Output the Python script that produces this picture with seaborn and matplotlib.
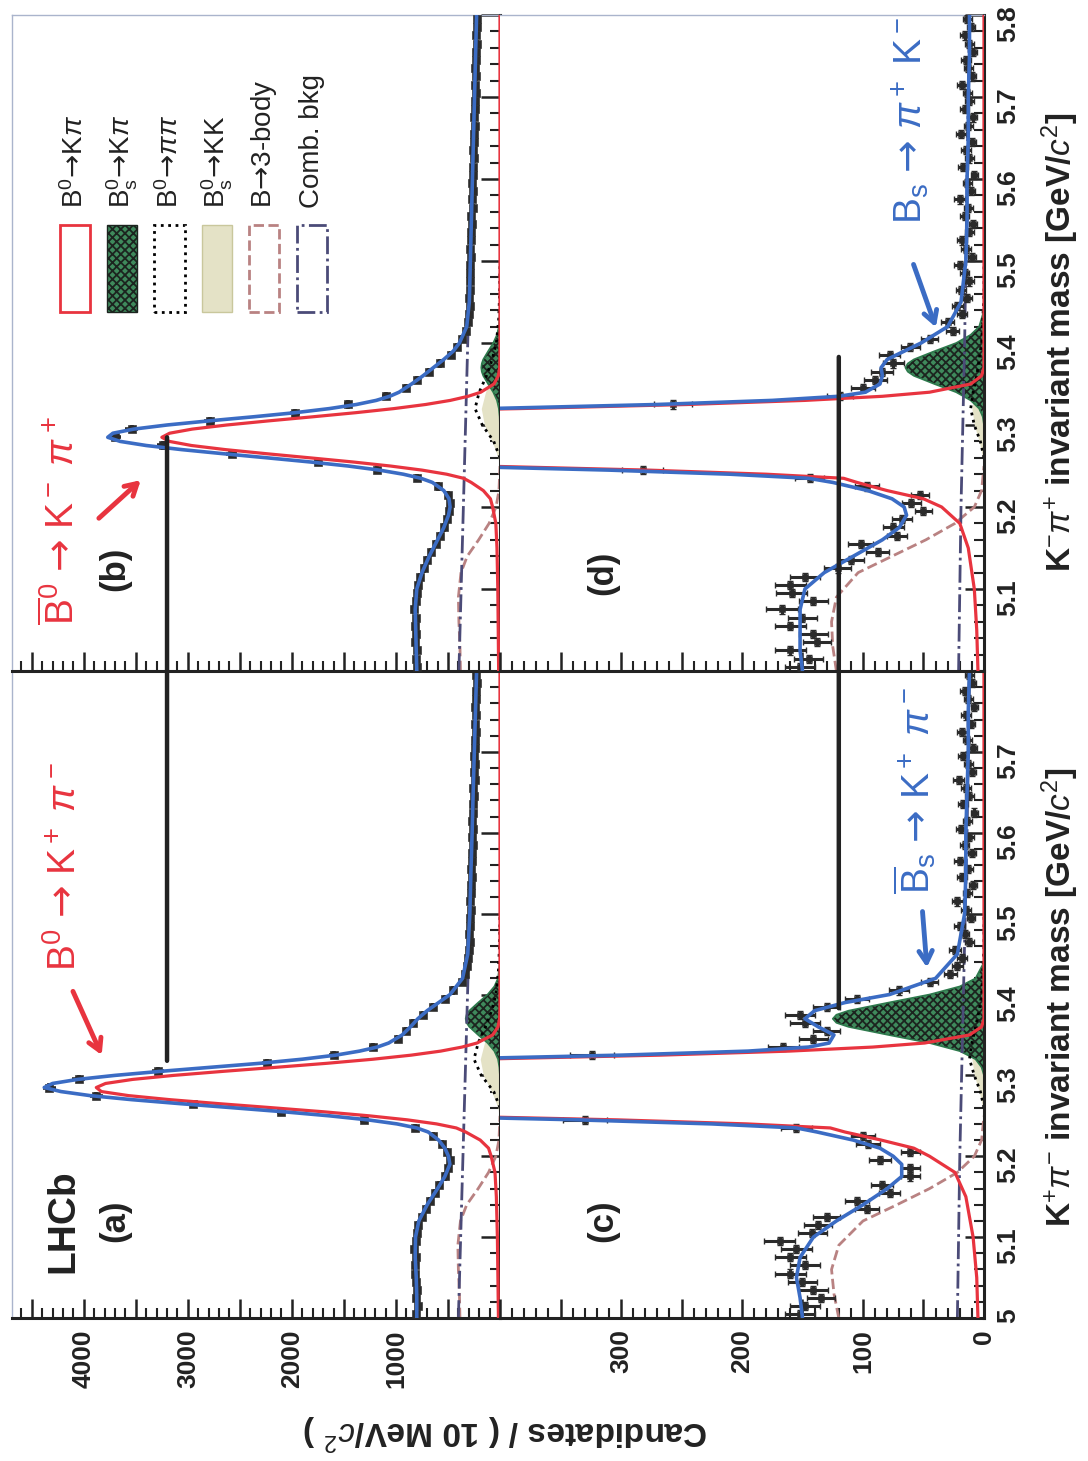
import numpy as np
import matplotlib
matplotlib.use("Agg")
import matplotlib.pyplot as plt
from matplotlib.ticker import MultipleLocator, FixedLocator, FuncFormatter
from matplotlib.patches import Rectangle, ConnectionPatch
import seaborn as sns

sns.set_theme(style="white")
plt.rcParams["font.family"] = ["Liberation Sans", "DejaVu Sans"]
plt.rcParams["mathtext.fontset"] = "custom"
plt.rcParams["mathtext.rm"] = "Liberation Sans"
plt.rcParams["mathtext.it"] = "Liberation Sans:italic"
plt.rcParams["mathtext.bf"] = "Liberation Sans:bold"
plt.rcParams["mathtext.sf"] = "DejaVu Sans"
plt.rcParams["hatch.linewidth"] = 1.3

# ---------------- data ----------------
# 10 MeV bin centres
bin_mass = np.round(np.arange(5.005, 5.8, 0.01), 3)

data_a = np.array([805, 790, 812, 798, 808, 815, 820, 812, 825, 808,
                   800, 785, 752, 715, 670, 628, 585, 527, 495, 480,
                   510, 555, 640, 820, 1310, 2100, 2950, 3880, 4330, 4050,
                   3290, 2240, 1600, 1220, 980, 900, 840, 740, 640, 530,
                   450, 370, 335, 318, 305, 298, 292, 300, 288, 292,
                   280, 290, 276, 282, 270, 278, 266, 272, 262, 268,
                   258, 266, 255, 260, 250, 256, 245, 252, 240, 248,
                   238, 244, 235, 240, 230, 236, 226, 232, 222, 228])
data_b = np.array([800, 812, 798, 815, 805, 820, 810, 822, 805, 795,
                   790, 765, 735, 700, 660, 615, 575, 540, 505, 490,
                   478, 500, 600, 800, 1180, 1750, 2580, 3240, 3700, 3540,
                   2790, 1970, 1460, 1100, 900, 800, 680, 580, 470, 410,
                   370, 330, 305, 300, 292, 298, 288, 292, 284, 288,
                   280, 285, 274, 280, 268, 275, 264, 270, 258, 265,
                   255, 262, 252, 256, 246, 252, 242, 248, 238, 244,
                   234, 240, 230, 236, 226, 232, 222, 228, 218, 224])
data_c = np.array([152, 148, 135, 141, 150, 160, 148, 160, 155, 169,
                   142, 137, 130, 97, 105, 78, 84, 61, 61, 86,
                   61, 96, 100, 155, 330, 640, 1150, 1650, 1850, 1600,
                   1180, 640, 324, 166, 141, 130, 148, 152, 130, 105,
                   70, 45, 28, 22, 18, 24, 12, 16, 20, 11,
                   15, 22, 14, 9, 18, 13, 20, 10, 16, 12,
                   19, 14, 8, 17, 12, 15, 21, 10, 13, 17,
                   9, 14, 18, 11, 15, 8, 13, 16, 10, 12])
data_d = np.array([152, 145, 160, 138, 141, 160, 150, 167, 141, 159,
                   160, 148, 121, 110, 88, 102, 72, 75, 68, 50,
                   60, 53, 97, 144, 282, 600, 1060, 1500, 1700, 1480,
                   1040, 600, 257, 119, 100, 90, 84, 75, 78, 61,
                   45, 26, 30, 18, 22, 14, 19, 12, 16, 20,
                   10, 15, 18, 12, 9, 16, 13, 20, 11, 14,
                   8, 17, 12, 15, 10, 19, 13, 9, 16, 12,
                   14, 18, 10, 13, 15, 9, 12, 16, 11, 14])

# total fit (blue)
curve_mass = np.array([5.000, 5.025, 5.050, 5.075, 5.100, 5.120, 5.140, 5.160, 5.175, 5.190,
                       5.200, 5.210, 5.220, 5.230, 5.235, 5.240, 5.245, 5.250, 5.255, 5.260,
                       5.265, 5.270, 5.275, 5.280, 5.285, 5.290, 5.295, 5.300, 5.305, 5.310,
                       5.315, 5.320, 5.325, 5.330, 5.335, 5.340, 5.350, 5.360, 5.370, 5.380,
                       5.390, 5.400, 5.420, 5.450, 5.500, 5.550, 5.600, 5.650, 5.700, 5.750,
                       5.800])
total_a = np.array([800, 800, 805, 815, 812, 780, 700, 600, 530, 482,
                    495, 530, 590, 690, 800, 990, 1270, 1640, 2080, 2570,
                    3070, 3540, 3940, 4220, 4380, 4300, 4060, 3700, 3260, 2780,
                    2300, 1900, 1580, 1350, 1180, 1070, 940, 860, 790, 700,
                    590, 480, 360, 310, 290, 280, 268, 258, 247, 236,
                    225])
total_b = np.array([800, 805, 810, 815, 800, 750, 680, 600, 540, 495,
                    480, 490, 540, 650, 760, 930, 1160, 1460, 1830, 2240,
                    2660, 3060, 3400, 3650, 3770, 3720, 3520, 3200, 2800, 2370,
                    1970, 1640, 1380, 1190, 1060, 970, 850, 740, 640, 540,
                    450, 390, 320, 295, 285, 275, 265, 255, 245, 235,
                    225])
total_c = np.array([150, 152, 155, 152, 141, 122, 100, 80, 68, 68,
                    75, 86, 108, 138, 155, 225, 335, 480, 680, 920,
                    1180, 1440, 1660, 1810, 1830, 1780, 1630, 1410, 1150, 890,
                    650, 450, 300, 195, 145, 128, 124, 137, 148, 140,
                    115, 78, 40, 22, 16, 15, 15, 14, 13, 13,
                    12])
total_d = np.array([150, 152, 152, 152, 148, 132, 108, 84, 70, 64,
                    66, 76, 96, 125, 145, 210, 310, 445, 625, 840,
                    1080, 1310, 1510, 1650, 1680, 1630, 1490, 1290, 1050, 810,
                    590, 410, 270, 175, 120, 98, 86, 84, 85, 80,
                    66, 52, 30, 19, 15, 14, 14, 13, 13, 12,
                    12])

# B0 -> K pi signal (red)
sig_mass = np.array([5.00, 5.05, 5.10, 5.15, 5.18, 5.20, 5.21, 5.22, 5.23,
                     5.235, 5.24, 5.245, 5.25, 5.255, 5.26, 5.265, 5.27, 5.275, 5.28, 5.285,
                     5.29, 5.295, 5.30, 5.305, 5.31, 5.315, 5.32, 5.325, 5.33, 5.335, 5.34,
                     5.35, 5.36, 5.37, 5.38, 5.40, 5.60, 5.80])
sig_a = np.array([15, 20, 25, 35, 48, 85, 110, 190, 330,
                  420, 610, 890, 1258, 1697, 2190, 2698, 3175, 3571, 3831, 3880,
                  3791, 3531, 3135, 2658, 2150, 1657, 1218, 854, 570, 365, 221,
                  70, 19, 4, 1, 0, 0, 0])
sig_b = np.array([13, 17, 21, 29, 40, 71, 92, 160, 277,
                  350, 513, 750, 1055, 1420, 1830, 2245, 2640, 2965, 3178, 3250,
                  3175, 2958, 2626, 2226, 1800, 1388, 1020, 715, 478, 306, 185,
                  58, 16, 3, 1, 0, 0, 0])
sig_c = np.array([5, 6, 9, 15, 24, 45, 58, 85, 115,
                  127, 196, 303, 454, 652, 890, 1153, 1412, 1633, 1783, 1800,
                  1748, 1598, 1377, 1118, 855, 617, 419, 268, 161, 92, 49,
                  12, 2, 0, 0, 0, 0, 0])
sig_d = np.array([5, 6, 8, 13, 20, 35, 50, 80, 105,
                  116, 180, 278, 416, 598, 816, 1057, 1295, 1497, 1635, 1650,
                  1603, 1465, 1262, 1025, 784, 566, 384, 246, 148, 84, 45,
                  11, 2, 0, 0, 0, 0, 0])

# Bs -> K pi (green hatched)
bs_mass = np.array([5.28, 5.30, 5.31, 5.32, 5.33, 5.34, 5.35, 5.36, 5.365,
                    5.37, 5.375, 5.38, 5.39, 5.40, 5.41, 5.42, 5.44, 5.46])
bs_a = np.array([0, 1, 6, 19, 54, 119, 210, 295, 321, 330, 321, 295, 210, 119, 54, 19, 1, 0])
bs_b = np.array([0, 1, 3, 11, 29, 65, 114, 161, 175, 180, 175, 161, 114, 65, 29, 11, 1, 0])
bs_c = np.array([0, 0, 2, 7, 20, 45, 79, 112, 122, 125, 122, 112, 79, 45, 20, 7, 0, 0])
bs_d = np.array([0, 0, 1, 4, 11, 23, 41, 58, 63, 65, 63, 58, 41, 23, 11, 4, 0, 0])

# B0 -> pi pi (dotted)
pipi_mass = np.array([5.26, 5.28, 5.30, 5.32, 5.34, 5.36, 5.38, 5.40, 5.43, 5.46, 5.50])
pipi_a = np.array([0, 60, 180, 250, 210, 140, 80, 40, 15, 5, 0])
pipi_b = np.array([0, 60, 170, 240, 200, 130, 75, 35, 12, 4, 0])
pipi_c = np.array([0, 3, 8, 12, 10, 7, 4, 2, 1, 0, 0])
pipi_d = np.array([0, 3, 8, 11, 9, 6, 4, 2, 1, 0, 0])

# Bs -> K K (pale fill)
kk_mass = np.array([5.24, 5.26, 5.28, 5.30, 5.32, 5.34, 5.36, 5.38, 5.40, 5.43])
kk_a = np.array([0, 20, 80, 160, 190, 150, 80, 30, 10, 0])
kk_b = np.array([0, 18, 75, 150, 180, 140, 75, 28, 9, 0])
kk_c = np.array([0, 1, 4, 8, 10, 8, 4, 2, 0, 0])
kk_d = np.array([0, 1, 4, 8, 10, 8, 4, 2, 0, 0])

# B -> 3-body (dashed)
tb_mass = np.array([5.00, 5.03, 5.06, 5.09, 5.12, 5.14, 5.16, 5.18, 5.20, 5.22, 5.25])
tb_a = np.array([385, 390, 400, 405, 380, 320, 210, 110, 40, 10, 0])
tb_b = np.array([380, 385, 395, 400, 375, 315, 205, 105, 38, 10, 0])
tb_c = np.array([120, 124, 126, 120, 100, 72, 45, 22, 8, 2, 0])
tb_d = np.array([122, 125, 126, 122, 104, 76, 48, 24, 8, 2, 0])

# combinatorial background (dash-dot)
comb_mass = np.array([5.0, 5.2, 5.4, 5.6, 5.8])
comb_a = np.array([400, 356, 312, 269, 225])
comb_b = np.array([395, 352, 310, 267, 222])
comb_c = np.array([22, 20, 17, 14, 12])
comb_d = np.array([21, 19, 16, 14, 12])

# ---------------- colours ----------------
RED = "#e8343f"
BLUE = "#3b6cc4"
DATA = "#2b2b2b"
GREEN = "#3f8a5c"
HATCH = "#1c241f"
PALE = "#e4e2c6"
PALE_EDGE = "#c9c79c"
PINK = "#b98282"
COMB = "#4b4b78"
INK = "#222222"
FRAME_LIGHT = "#aab4cc"
ARROW = r"\mathsf{→}"

# ---------------- figure ----------------
W, H = 1088, 1461
fig = plt.figure(figsize=(W / 100, H / 100), dpi=100)


def box(x0, y0, x1, y1):
    return [x0 / W, 1 - y1 / H, (x1 - x0) / W, (y1 - y0) / H]


ax_a = fig.add_axes(box(12, 671, 500, 1318))
ax_b = fig.add_axes(box(12, 15, 500, 671))
ax_c = fig.add_axes(box(500, 671, 984, 1318))
ax_d = fig.add_axes(box(500, 15, 984, 671))


def draw_panel(ax, data, total, sig, bs, pipi, kk, tb, comb, big):
    ax.fill_betweenx(kk_mass, 0, kk, color=PALE, lw=0, zorder=1)
    ax.fill_betweenx(bs_mass, 0, bs, facecolor=GREEN, edgecolor="none", zorder=1.2)
    ax.fill_betweenx(bs_mass, 0, bs, facecolor="none", edgecolor=HATCH, hatch="xxxx", lw=0, zorder=1.3)
    sns.lineplot(x=bs, y=bs_mass, orient="y", estimator=None, color="#2e7a4d", lw=1.2, ax=ax, zorder=1.4)
    sns.lineplot(x=pipi, y=pipi_mass, orient="y", estimator=None, color="black", lw=2, linestyle=":", ax=ax, zorder=2)
    sns.lineplot(x=tb, y=tb_mass, orient="y", estimator=None, color=PINK, lw=2, linestyle="--", ax=ax, zorder=2)
    sns.lineplot(x=comb, y=comb_mass, orient="y", estimator=None, color=COMB, lw=2, linestyle="-.", ax=ax, zorder=2)
    ax.errorbar(data, bin_mass, xerr=np.sqrt(data), yerr=0.005, fmt="none", ecolor=DATA,
                elinewidth=2.6 if big else 2.2, capsize=0 if big else 2.5, zorder=3)
    sns.scatterplot(x=data, y=bin_mass, marker="s", s=30 if big else 24, color=DATA, edgecolor=DATA,
                    ax=ax, zorder=3.5)
    sns.lineplot(x=sig, y=sig_mass, orient="y", estimator=None, color=RED, lw=2.3, ax=ax, zorder=4)
    sns.lineplot(x=total, y=curve_mass, orient="y", estimator=None, color=BLUE, lw=2.6, ax=ax, zorder=5)


draw_panel(ax_a, data_a, total_a, sig_a, bs_a, pipi_a, kk_a, tb_a, comb_a, True)
draw_panel(ax_b, data_b, total_b, sig_b, bs_b, pipi_b, kk_b, tb_b, comb_b, True)
draw_panel(ax_c, data_c, total_c, sig_c, bs_c, pipi_c, kk_c, tb_c, comb_c, False)
draw_panel(ax_d, data_d, total_d, sig_d, bs_d, pipi_d, kk_d, tb_d, comb_d, False)


def mass_fmt(v, pos):
    return "5" if abs(v - 5.0) < 1e-6 else f"{v:.1f}"


def style(ax, big, n_labels, mass_labels):
    ax.set_ylim(5.0, 5.8)
    ax.set_xlabel("")
    ax.set_ylabel("")
    if big:
        ax.set_xlim(4690, 0)
        ax.xaxis.set_major_locator(MultipleLocator(500))
        ax.xaxis.set_minor_locator(MultipleLocator(100))
        ax.xaxis.set_major_formatter(FuncFormatter(
            lambda v, p: f"{v:.0f}" if v > 1 and round(v) % 1000 == 0 else ""))
    else:
        ax.set_xlim(400, 0)
        ax.xaxis.set_major_locator(MultipleLocator(50))
        ax.xaxis.set_minor_locator(MultipleLocator(10))
        ax.xaxis.set_major_formatter(FuncFormatter(
            lambda v, p: f"{v:.0f}" if round(v) % 100 == 0 and v < 399 else ""))
    if mass_labels is None:
        ax.yaxis.set_major_locator(MultipleLocator(0.1))
    else:
        ax.yaxis.set_major_locator(FixedLocator(mass_labels))
    ax.yaxis.set_minor_locator(MultipleLocator(0.02))
    ax.yaxis.set_major_formatter(FuncFormatter(mass_fmt))
    ax.yaxis.tick_right()
    ax.tick_params(axis="x", which="both", direction="in", bottom=True, top=False,
                   labelbottom=n_labels, labelrotation=90, labelsize=19, pad=8, colors=INK)
    ax.tick_params(axis="y", which="both", direction="in", right=True, left=False,
                   labelright=mass_labels is not None, labelleft=False, labelrotation=90,
                   labelsize=19, pad=9, colors=INK)
    ax.tick_params(which="major", length=14, width=1.8)
    ax.tick_params(which="minor", length=7, width=1.5)
    for side in ("bottom", "right"):
        ax.spines[side].set_color(INK)
        ax.spines[side].set_linewidth(2.2)
    for side in ("left", "top"):
        ax.spines[side].set_color(FRAME_LIGHT)
        ax.spines[side].set_linewidth(1.0)


style(ax_a, True, True, None)
style(ax_b, True, False, None)
style(ax_c, False, True, [5.0, 5.1, 5.2, 5.3, 5.4, 5.5, 5.6, 5.7])
style(ax_d, False, False, [5.1, 5.2, 5.3, 5.4, 5.5, 5.6, 5.7, 5.8])
ax_a.spines["top"].set_visible(False)
ax_c.spines["top"].set_visible(False)
ax_c.spines["left"].set_visible(False)
ax_d.spines["left"].set_visible(False)

# ---------------- panel labels ----------------
ax_a.text(4200, 5.12, "LHCb", rotation=90, ha="center", va="center", fontsize=28, fontweight="bold", color=INK)
ax_a.text(3700, 5.12, "(a)", rotation=90, ha="center", va="center", fontsize=25, fontweight="bold", color=INK)
ax_b.text(3700, 5.125, "(b)", rotation=90, ha="center", va="center", fontsize=25, fontweight="bold", color=INK)
ax_c.text(315, 5.12, "(c)", rotation=90, ha="center", va="center", fontsize=25, fontweight="bold", color=INK)
ax_d.text(315, 5.12, "(d)", rotation=90, ha="center", va="center", fontsize=25, fontweight="bold", color=INK)

# ---------------- decay annotations ----------------
arrow_red = dict(arrowstyle="->,head_length=0.7,head_width=0.4", color=RED, lw=3.5)
arrow_blue = dict(arrowstyle="->,head_length=0.7,head_width=0.4", color=BLUE, lw=3.5)
ax_a.text(4180, 5.558, rf"$\mathrm{{B}}^0\ {ARROW}\ \mathrm{{K}}^+\ \pi^-$", rotation=90,
          ha="center", va="center", fontsize=28, color=RED)
ax_a.annotate("", xy=(3817, 5.322), xytext=(4115, 5.407), arrowprops=arrow_red)
ax_b.text(4210, 5.183, rf"$\overline{{\mathrm{{B}}}}{{}}^0\ {ARROW}\ \mathrm{{K}}^-\ \pi^+$", rotation=90,
          ha="center", va="center", fontsize=28, color=RED)
ax_b.annotate("", xy=(3433, 5.235), xytext=(3875, 5.184), arrowprops=arrow_red)
ax_c.text(57, 5.652, rf"$\overline{{\mathrm{{B}}}}_\mathrm{{s}}\ {ARROW}\ \mathrm{{K}}^+\ \pi^-$", rotation=90,
          ha="center", va="center", fontsize=28, color=BLUE)
ax_c.annotate("", xy=(47, 5.43), xytext=(51, 5.506), arrowprops=arrow_blue)
ax_d.text(61, 5.672, rf"$\mathrm{{B}}_\mathrm{{s}}\ {ARROW}\ \pi^+\ \mathrm{{K}}^-$", rotation=90,
          ha="center", va="center", fontsize=28, color=BLUE)
ax_d.annotate("", xy=(39, 5.416), xytext=(59, 5.499), arrowprops=arrow_blue)

# horizontal guide lines linking the peaks of neighbouring panels
for axA, xyA, axB, xyB in [(ax_a, (3200, 5.318), ax_b, (3200, 5.285)),
                           (ax_c, (120, 5.383), ax_d, (120, 5.383))]:
    con = ConnectionPatch(xyA=xyA, coordsA="data", axesA=axA, xyB=xyB, coordsB="data", axesB=axB,
                          color=INK, lw=3.2, zorder=10)
    fig.add_artist(con)

# ---------------- legend (panel b) ----------------
legend_items = [
    (rf"$\mathrm{{B}}^0{ARROW}\mathrm{{K}}\pi$", dict(facecolor="white", edgecolor=RED, lw=2)),
    (rf"$\mathrm{{B}}^0_\mathrm{{s}}{ARROW}\mathrm{{K}}\pi$", dict(facecolor=GREEN, edgecolor=HATCH, hatch="xxxx", lw=1)),
    (rf"$\mathrm{{B}}^0{ARROW}\pi\pi$", dict(facecolor="white", edgecolor="black", ls=":", lw=2)),
    (rf"$\mathrm{{B}}^0_\mathrm{{s}}{ARROW}\mathrm{{KK}}$", dict(facecolor=PALE, edgecolor=PALE_EDGE, lw=1)),
    (rf"$\mathrm{{B}}{ARROW}$3-body", dict(facecolor="white", edgecolor=PINK, ls="--", lw=2)),
    ("Comb. bkg", dict(facecolor="white", edgecolor=COMB, ls="-.", lw=2)),
]
for i, (label, patch_style) in enumerate(legend_items):
    xc = 0.129 + i * 0.097
    ax_b.add_patch(Rectangle((xc - 0.031, 0.547), 0.062, 0.133, transform=ax_b.transAxes,
                             zorder=6, **patch_style))
    ax_b.text(xc, 0.706, label, transform=ax_b.transAxes, rotation=90, ha="center", va="bottom",
              fontsize=20, color=INK)

# ---------------- axis titles ----------------
fig.text(1060 / W, 1 - 997 / H, r"$\mathbf{K}^{+}\pi^{-}$ invariant mass [GeV/$c^2$]", rotation=90,
         ha="center", va="center", fontsize=24, fontweight="bold", color=INK)
fig.text(1060 / W, 1 - 342 / H, r"$\mathbf{K}^{-}\pi^{+}$ invariant mass [GeV/$c^2$]", rotation=90,
         ha="center", va="center", fontsize=24, fontweight="bold", color=INK)
fig.text(505 / W, 1 - 1432 / H, r"Candidates / ( 10 MeV/$c^2$ )", rotation=180,
         ha="center", va="center", fontsize=24, fontweight="bold", color=INK)

# bold tick labels
fig.canvas.draw()
for ax in (ax_a, ax_b, ax_c, ax_d):
    for lab in ax.get_xticklabels() + ax.get_yticklabels():
        lab.set_fontweight("bold")

fig.savefig("out.png", dpi=100)
